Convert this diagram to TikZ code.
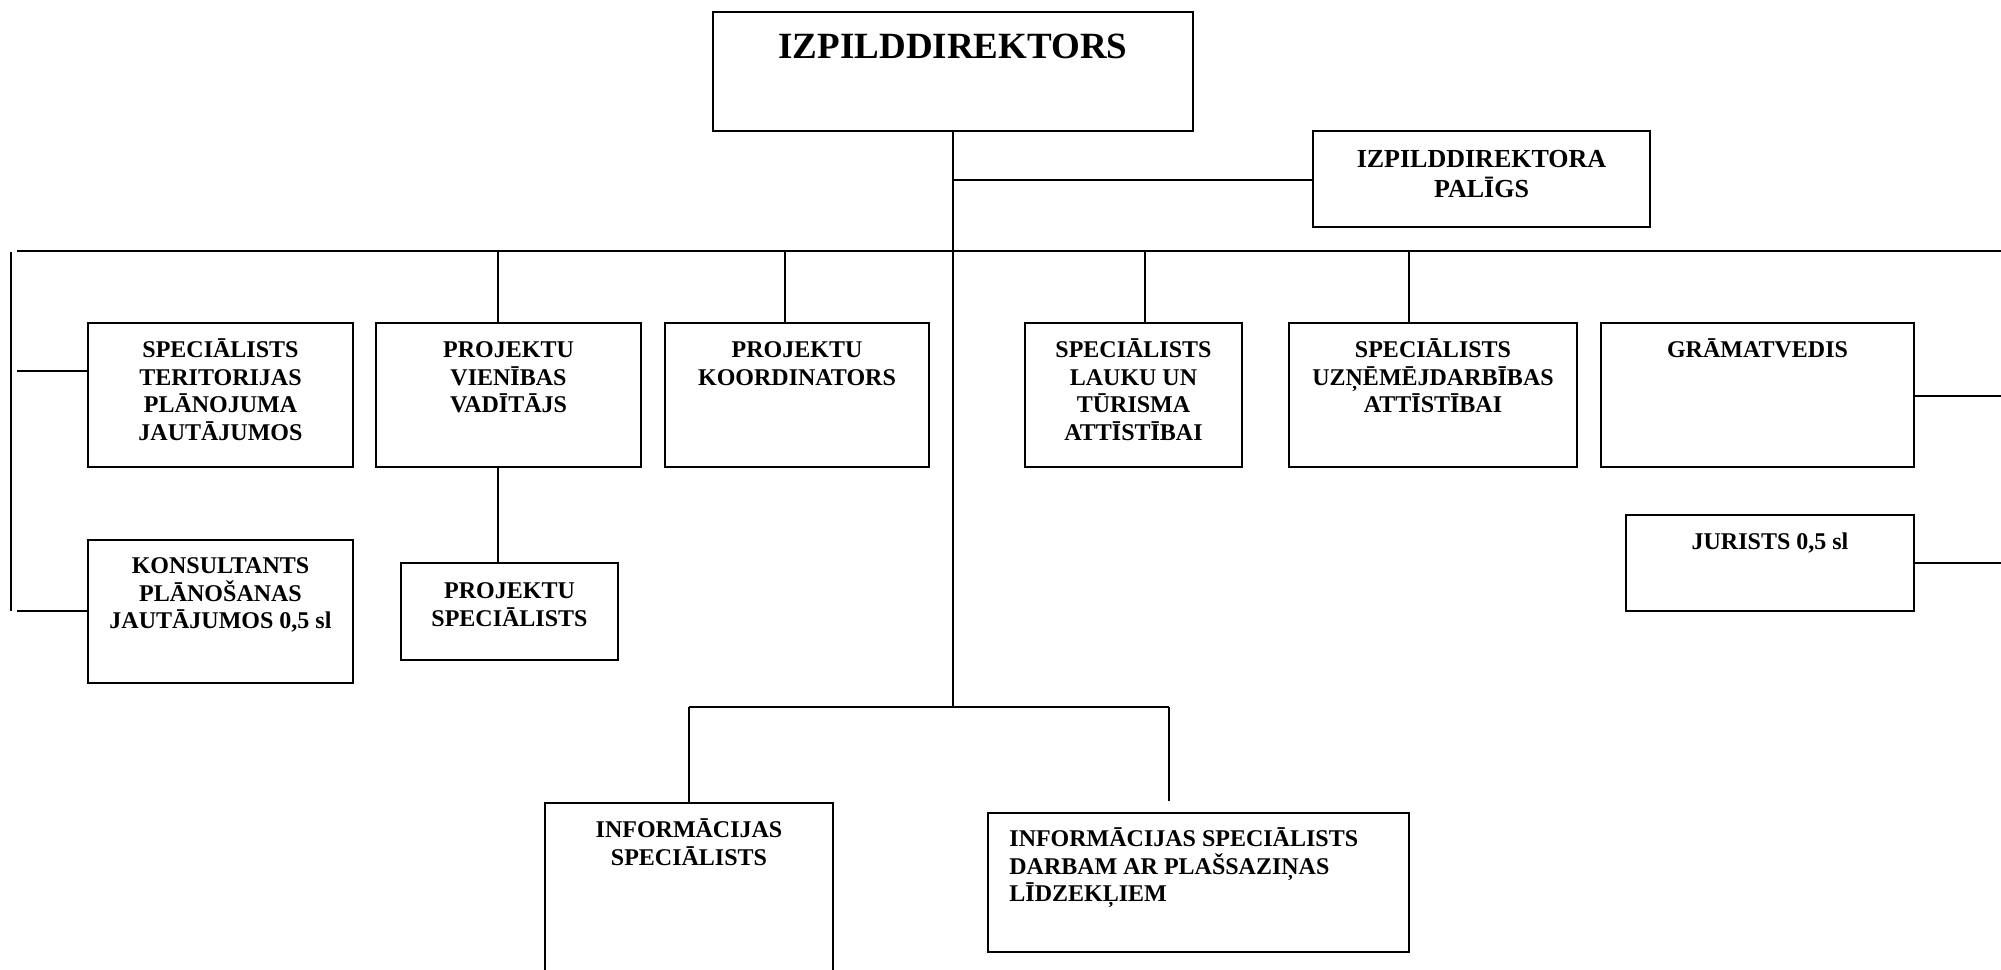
\documentclass[tikz,border=0pt]{standalone}
\usepackage{fontspec}
\setmainfont{Liberation Serif}
\usetikzlibrary{fit}
\tikzset{
  boxst/.style={draw, line width=1.1pt, inner sep=0pt, fill=white},
  txt/.style={inner sep=0pt, align=center, font=\bfseries\fontsize{12pt}{13.8pt}\selectfont},
  link/.style={line width=0.8pt},
}
\newcommand\obox[7]{%
  \node[boxst, fit={(#2,#3) (#4,#5)}] (#1) {};
  \node[txt, anchor=north] (#1t) at ({(#2+#4)/2}, {#6-22}) {\rule{0pt}{11pt}#7};
}
\begin{document}
\begin{tikzpicture}[x=0.5pt, y=-0.5pt]
\clip (0,0) rectangle (2001,969);
\fill[white] (0,0) rectangle (2001,969);

% junction coordinates
\coordinate (asj) at (953,180);
\coordinate (busC) at (953,251);
\coordinate (busL) at (17,251);
\coordinate (busR) at (2001,251);
\coordinate (lvT) at (11,252);
\coordinate (lvB) at (11,611);
\coordinate (ls1) at (17,371);
\coordinate (ls2) at (17,611);
\coordinate (botJ) at (953,707);
\coordinate (botL) at (689,707);
\coordinate (botR) at (1169,707);
\coordinate (botRe) at (1169,801);
\coordinate (rs1) at (2001,396);
\coordinate (rs2) at (2001,563);

% boxes
\node[boxst, fit={(713,12) (1193,131)}] (dir) {};
\node[inner sep=0pt, anchor=north, font=\bfseries\fontsize{18.5pt}{21pt}\selectfont] (dirt) at (953,28) {\rule{0pt}{15pt}IZPILDDIREKTORS};

\node[boxst, fit={(1313,131) (1650,227)}] (asst) {};
\node[inner sep=0pt, anchor=north, align=center, font=\bfseries\fontsize{13pt}{15pt}\selectfont] (asstt) at (1481.5,144) {\rule{0pt}{11.5pt}IZPILDDIREKTORA\\PALĪGS};

\obox{b1}{88}{323}{353}{467}{357}{SPECIĀLISTS\\TERITORIJAS\\PLĀNOJUMA\\JAUTĀJUMOS}
\obox{b2}{376}{323}{641}{467}{357}{PROJEKTU\\VIENĪBAS\\VADĪTĀJS}
\obox{b3}{665}{323}{929}{467}{357}{PROJEKTU\\KOORDINATORS}
\obox{b4}{1025}{323}{1242}{467}{357}{SPECIĀLISTS\\LAUKU UN\\TŪRISMA\\ATTĪSTĪBAI}
\obox{b5}{1289}{323}{1577}{467}{357}{SPECIĀLISTS\\UZŅĒMĒJDARBĪBAS\\ATTĪSTĪBAI}
\obox{b6}{1601}{323}{1914}{467}{357}{GRĀMATVEDIS}
\obox{kons}{88}{540}{353}{683}{573}{KONSULTANTS\\PLĀNOŠANAS\\JAUTĀJUMOS 0,5 sl}
\obox{ps}{401}{563}{618}{660}{598}{PROJEKTU\\SPECIĀLISTS}
\obox{jur}{1626}{515}{1914}{611}{549}{JURISTS 0,5 sl}
\obox{is}{545}{803}{833}{990}{837}{INFORMĀCIJAS\\SPECIĀLISTS}

\node[boxst, fit={(988,813) (1409,952)}] (isd) {};
\node[txt, align=left, anchor=north west] (isdt) at (1009,824) {\rule{0pt}{11pt}INFORMĀCIJAS SPECIĀLISTS\\DARBAM AR PLAŠSAZIŅAS\\LĪDZEKĻIEM};

% connectors
\draw[link] (dir.south) -- (botJ);
\draw[link] (asj) -- (asst.west |- asj);
\draw[link] (busL) -- (busR);
\draw[link] (lvT) -- (lvB);
\draw[link] (ls1) -- (b1.west |- ls1);
\draw[link] (ls2) -- (kons.west |- ls2);
\draw[link] (498,251) -- (b2.north -| 498,0);
\draw[link] (785,251) -- (b3.north -| 785,0);
\draw[link] (1145,251) -- (b4.north -| 1145,0);
\draw[link] (1409,251) -- (b5.north -| 1409,0);
\draw[link] (b2.south -| 498,0) -- (ps.north -| 498,0);
\draw[link] (b6.east |- rs1) -- (rs1);
\draw[link] (jur.east |- rs2) -- (rs2);
\draw[link] (botL) -- (botR);
\draw[link] (botL) -- (is.north);
\draw[link] (botR) -- (botRe);
\end{tikzpicture}
\end{document}
